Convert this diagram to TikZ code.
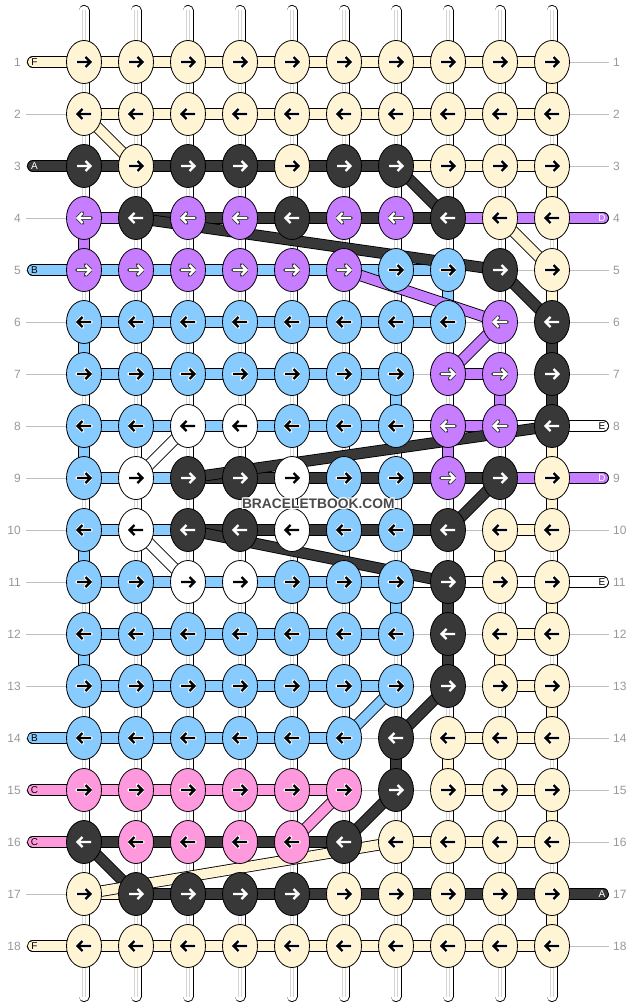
\documentclass[tikz,border=0pt]{standalone}
\usepackage{fontspec}
\setmainfont{Liberation Sans}
\usetikzlibrary{shapes.geometric}
\definecolor{cY}{HTML}{FFF5D5}
\definecolor{cK}{HTML}{383838}
\definecolor{cP}{HTML}{C77DFF}
\definecolor{cB}{HTML}{88CCFF}
\definecolor{cI}{HTML}{FF99DD}
\definecolor{cW}{HTML}{FFFFFF}
\definecolor{guide}{HTML}{C0C0C0}
\definecolor{lbl}{HTML}{999999}
\definecolor{wmc}{HTML}{4A4A4A}
\pgfdeclarelayer{bg}
\pgfdeclarelayer{guides}
\pgfdeclarelayer{strings}
\pgfdeclarelayer{bands}
\pgfsetlayers{bg,guides,strings,bands,main}
\def\arrY{black}\def\halY{white}
\def\arrK{white}\def\halK{cK}
\def\arrP{white}\def\halP{cK}
\def\arrB{black}\def\halB{white}
\def\arrI{black}\def\halI{white}
\def\arrW{black}\def\halW{white}
\tikzset{
  x=1pt, y=-1pt,
  knot/.style={ellipse, draw=black, line width=0.8pt, minimum width=35pt, minimum height=43pt, inner sep=0pt},
  band/.style={draw=black, line width=0.85pt, double=#1, double distance=9.7pt},
  tail/.style={band=#1, line cap=round},
  rowlbl/.style={text=lbl, inner sep=0pt, font=\fontsize{12}{12}\selectfont},
  taillbl/.style={inner sep=0pt, font=\fontsize{10}{10}\selectfont},
  wm/.style={inner sep=0pt, font=\fontsize{13.8}{14}\selectfont\bfseries},
}
\newcommand\krow[2]{%
  \foreach \cc [count=\c] in {#2}{%
    \pgfmathsetmacro\xx{84+52*(\c-1)}%
    \pgfmathsetmacro\yy{62+52*(#1-1)}%
    \edef\hc{\csname hal\cc\endcsname}%
    \edef\ac{\csname arr\cc\endcsname}%
    \node[knot, fill=c\cc] (k-#1-\c) at (\xx,\yy) {};
    \ifodd#1 \def\dd{1}\else\def\dd{-1}\fi
    \begin{scope}[shift={(\xx,\yy)}, xscale=\dd]
      \draw[line width=3.9pt, color=\hc, line cap=round, line join=round] (-7,0) -- (5.5,0) (1.5,-5) -- (6.5,0) -- (1.5,5);
      \draw[line width=2.2pt, color=\ac] (-7,0) -- (5.5,0) (1.5,-5) -- (6.5,0) -- (1.5,5);
    \end{scope}
  }%
}
\newcommand\brow[2]{%
  \foreach \cc [count=\c] in {#2}{%
    \if\cc-\else
      \pgfmathtruncatemacro\nc{\c+1}%
      \draw[band=c\cc] (k-#1-\c.center) -- (k-#1-\nc.center);
    \fi
  }%
}
\newcommand\seg[5]{\draw[band=c#5] (k-#1-#2.center) -- (k-#3-#4.center);}
\begin{document}
\begin{tikzpicture}
\begin{pgfonlayer}{bg}
\fill[white] (0,0) rectangle (636,1008);
\end{pgfonlayer}
\useasboundingbox (0,0) rectangle (636,1008);
% knots
\krow{1}{Y,Y,Y,Y,Y,Y,Y,Y,Y,Y}
\krow{2}{Y,Y,Y,Y,Y,Y,Y,Y,Y,Y}
\krow{3}{K,Y,K,K,Y,K,K,Y,Y,Y}
\krow{4}{P,K,P,P,K,P,P,K,Y,Y}
\krow{5}{P,P,P,P,P,P,B,B,K,Y}
\krow{6}{B,B,B,B,B,B,B,B,P,K}
\krow{7}{B,B,B,B,B,B,B,P,P,K}
\krow{8}{B,B,W,W,B,B,B,P,P,K}
\krow{9}{B,W,K,K,W,B,B,P,K,Y}
\krow{10}{B,W,K,K,W,B,B,K,Y,Y}
\krow{11}{B,B,W,W,B,B,B,K,Y,Y}
\krow{12}{B,B,B,B,B,B,B,K,Y,Y}
\krow{13}{B,B,B,B,B,B,B,K,Y,Y}
\krow{14}{B,B,B,B,B,B,K,Y,Y,Y}
\krow{15}{I,I,I,I,I,I,K,Y,Y,Y}
\krow{16}{K,I,I,I,I,K,Y,Y,Y,Y}
\krow{17}{Y,K,K,K,K,Y,Y,Y,Y,Y}
\krow{18}{Y,Y,Y,Y,Y,Y,Y,Y,Y,Y}
% guide lines and row labels
\foreach \r in {1,...,18}{
  \pgfmathsetmacro\yy{62+52*(\r-1)}
  \node[rowlbl, anchor=east] (ln-\r) at (21,\yy) {\r};
  \node[rowlbl, anchor=west] (rn-\r) at (613,\yy) {\r};
  \coordinate (gl-\r) at (26,\yy);
  \coordinate (gr-\r) at (609,\yy);
  \begin{pgfonlayer}{guides}
    \draw[guide, line width=0.8pt] (gl-\r) -- (gr-\r);
  \end{pgfonlayer}
}
% vertical strings
\begin{pgfonlayer}{strings}
\foreach \c in {1,...,10}{
  \pgfmathsetmacro\xx{84+52*(\c-1)}
  \coordinate (st-\c) at (\xx,10.5);
  \coordinate (sb-\c) at (\xx,996.5);
  \draw[draw=black, line width=0.85pt, double=white, double distance=9.3pt, line cap=round] (st-\c) -- (sb-\c);
  \draw[black!17, line width=0.7pt] ([xshift=-1.4pt]st-\c) -- ([xshift=-1.4pt]sb-\c);
  \draw[black!17, line width=0.7pt] ([xshift=1.4pt]st-\c) -- ([xshift=1.4pt]sb-\c);
}
\end{pgfonlayer}
% bands
\begin{pgfonlayer}{bands}
\brow{1}{Y,Y,Y,Y,Y,Y,Y,Y,Y}
\brow{2}{Y,Y,Y,Y,Y,Y,Y,Y,Y}
\brow{3}{K,K,K,K,K,K,Y,Y,Y}
\brow{4}{P,K,K,K,K,K,K,P,P}
\brow{5}{B,B,B,B,B,B,B,-,-}
\brow{6}{B,B,B,B,B,B,B,-,-}
\brow{7}{B,B,B,B,B,B,-,P,-}
\brow{8}{B,B,B,B,B,B,W,P,W}
\brow{9}{B,B,K,K,K,K,K,K,P}
\brow{10}{B,B,K,K,K,K,K,-,Y}
\brow{11}{B,B,B,B,B,B,W,W,W}
\brow{12}{B,B,B,B,B,B,-,-,Y}
\brow{13}{B,B,B,B,B,B,-,-,Y}
\brow{14}{B,B,B,B,B,-,-,Y,Y}
\brow{15}{I,I,I,I,I,-,-,Y,Y}
\brow{16}{K,K,K,K,K,-,Y,Y,Y}
\brow{17}{Y,K,K,K,K,K,K,K,K}
\brow{18}{Y,Y,Y,Y,Y,Y,Y,Y,Y}
% vertical turns
\seg{1}{10}{2}{10}{Y}
\seg{3}{10}{4}{10}{Y}
\seg{4}{1}{5}{1}{P}
\seg{5}{8}{6}{8}{B}
\seg{5}{10}{6}{10}{Y}
\seg{6}{1}{7}{1}{B}
\seg{6}{10}{7}{10}{K}
\seg{7}{7}{8}{7}{B}
\seg{7}{9}{8}{9}{P}
\seg{7}{10}{8}{10}{K}
\seg{8}{1}{9}{1}{B}
\seg{8}{8}{9}{8}{P}
\seg{8}{10}{9}{10}{Y}
\seg{9}{10}{10}{10}{Y}
\seg{10}{1}{11}{1}{B}
\seg{10}{9}{11}{9}{Y}
\seg{11}{7}{12}{7}{B}
\seg{11}{8}{12}{8}{K}
\seg{11}{10}{12}{10}{Y}
\seg{12}{1}{13}{1}{B}
\seg{12}{8}{13}{8}{K}
\seg{12}{9}{13}{9}{Y}
\seg{13}{10}{14}{10}{Y}
\seg{14}{7}{15}{7}{K}
\seg{14}{8}{15}{8}{Y}
\seg{15}{10}{16}{10}{Y}
\seg{17}{10}{18}{10}{Y}
% diagonals
\seg{2}{1}{3}{2}{Y}
\seg{3}{7}{4}{8}{K}
\seg{4}{2}{5}{9}{K}
\seg{4}{9}{5}{10}{Y}
\seg{5}{6}{6}{9}{P}
\seg{5}{9}{6}{10}{K}
\seg{6}{9}{7}{8}{P}
\seg{8}{10}{9}{3}{K}
\seg{8}{3}{9}{2}{W}
\seg{9}{9}{10}{8}{K}
\seg{10}{2}{11}{3}{W}
\seg{10}{3}{11}{8}{K}
\seg{13}{7}{14}{6}{B}
\seg{13}{8}{14}{7}{K}
\seg{15}{7}{16}{6}{K}
\seg{15}{6}{16}{5}{I}
\seg{16}{1}{17}{2}{K}
\seg{17}{1}{16}{7}{Y}
% tails
\foreach \r/\cl in {1/Y,3/K,5/B,14/B,15/I,16/I,18/Y}{
  \pgfmathsetmacro\yy{62+52*(\r-1)}
  \coordinate (tl-\r) at (32.7,\yy);
  \draw[tail=c\cl] (tl-\r) -- (k-\r-1.center);
}
\foreach \r/\cl in {4/P,8/W,9/P,11/W,17/K}{
  \pgfmathsetmacro\yy{62+52*(\r-1)}
  \coordinate (tr-\r) at (603.3,\yy);
  \draw[tail=c\cl] (k-\r-10.center) -- (tr-\r);
}
\end{pgfonlayer}
% tail letters
\foreach \r/\t/\tc in {1/F/black,3/A/white,5/B/black,14/B/black,15/C/black,16/C/black,18/F/black}{
  \pgfmathsetmacro\yy{62+52*(\r-1)}
  \node[taillbl, text=\tc] (tt-\r) at (34.5,\yy) {\t};
}
\foreach \r/\t/\tc in {4/D/white,8/E/black,9/D/white,11/E/black,17/A/white}{
  \pgfmathsetmacro\yy{62+52*(\r-1)}
  \node[taillbl, text=\tc] (tq-\r) at (602,\yy) {\t};
}
% watermark
\foreach \dx/\dy [count=\i] in {1/0,-1/0,0/1,0/-1,1/1,1/-1,-1/1,-1/-1}{
  \node[wm, text=white] (wmh-\i) at (318.3+\dx,503.3+\dy) {BRACELETBOOK.COM};
}
\node[wm, text=wmc] (wm) at (318.3,503.3) {BRACELETBOOK.COM};
\end{tikzpicture}
\end{document}
